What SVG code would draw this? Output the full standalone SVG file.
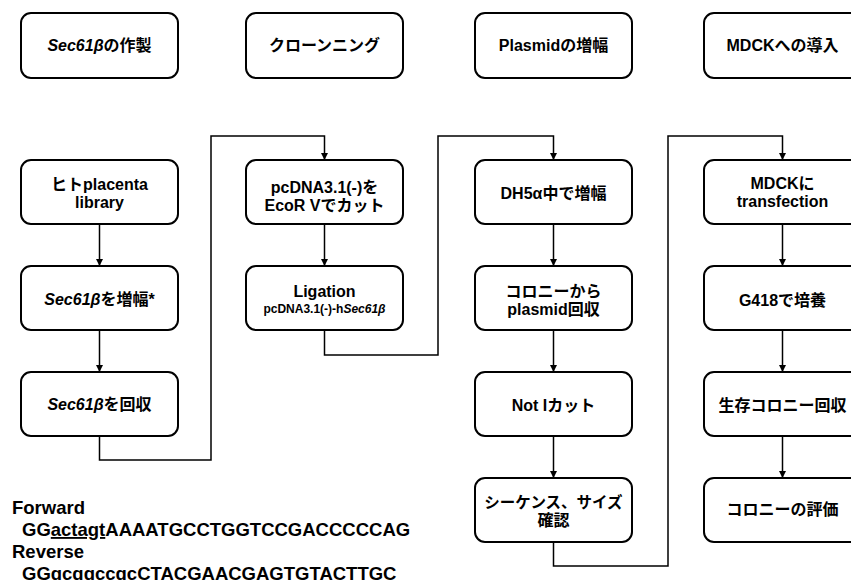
<svg xmlns="http://www.w3.org/2000/svg" width="851" height="580" viewBox="0 0 851 580">
<style>
text{font-family:"Liberation Sans","Noto Sans CJK JP",sans-serif;font-weight:bold;fill:#000;}
.n{font-size:16px;text-anchor:middle;}
.s{font-size:12px;text-anchor:middle;}
.l{font-size:16px;text-anchor:middle;}
.seq{font-size:18.5px;}
.i{font-style:italic;}
.u{text-decoration:underline;}
rect.box{fill:#fff;stroke:#000;stroke-width:2;}
#connectors path{fill:none;stroke:#000;stroke-width:1.5;}
</style>
<defs>
<marker id="ah" viewBox="0 0 10 10" refX="10" refY="5" markerWidth="7" markerHeight="7" markerUnits="userSpaceOnUse" orient="auto">
<path d="M0,0 L10,5 L0,10 z" fill="#000"/>
</marker>
</defs>
<rect width="851" height="580" fill="#fff"/>
<g id="connectors">
<path d="M99.5,224 V266" marker-end="url(#ah)"/>
<path d="M99.5,330 V372" marker-end="url(#ah)"/>
<path d="M99.5,436 V460 H211 V136 H324.5 V160" marker-end="url(#ah)"/>
<path d="M324.5,224 V266" marker-end="url(#ah)"/>
<path d="M324.5,330 V355 H438 V136 H553.5 V160" marker-end="url(#ah)"/>
<path d="M553.5,224 V266" marker-end="url(#ah)"/>
<path d="M553.5,330 V372" marker-end="url(#ah)"/>
<path d="M553.5,436 V478" marker-end="url(#ah)"/>
<path d="M553.5,542 V566 H668 V136 H782.5 V160" marker-end="url(#ah)"/>
<path d="M782.5,224 V266" marker-end="url(#ah)"/>
<path d="M782.5,330 V372" marker-end="url(#ah)"/>
<path d="M782.5,436 V478" marker-end="url(#ah)"/>
</g>
<g id="h1"><rect class="box" x="21" y="13" width="157" height="65" rx="10"/><text class="n" x="99.5" y="51"><tspan class="i">Sec61β</tspan>の作製</text></g>
<g id="h2"><rect class="box" x="246" y="13" width="157" height="65" rx="10"/><text class="n" x="324.5" y="51">クローンニング</text></g>
<g id="h3"><rect class="box" x="475" y="13" width="157" height="65" rx="10"/><text class="n" x="553.5" y="51">Plasmidの増幅</text></g>
<g id="h4"><rect class="box" x="704" y="13" width="157" height="65" rx="10"/><text class="n" x="782.5" y="51">MDCKへの導入</text></g>

<g id="a1"><rect class="box" x="21" y="160" width="157" height="64" rx="10"/><text class="n" x="99.5" y="190">ヒトplacenta</text><text class="n" x="99.5" y="208">library</text></g>
<g id="a2"><rect class="box" x="21" y="266" width="157" height="64" rx="10"/><text class="n" x="99.5" y="305"><tspan class="i">Sec61β</tspan>を増幅*</text></g>
<g id="a3"><rect class="box" x="21" y="372" width="157" height="64" rx="10"/><text class="n" x="99.5" y="410"><tspan class="i">Sec61β</tspan>を回収</text></g>

<g id="b1"><rect class="box" x="246" y="160" width="157" height="64" rx="10"/><text class="n" x="324.5" y="193">pcDNA3.1(-)を</text><text class="n" x="324.5" y="211">EcoR Vでカット</text></g>
<g id="b2"><rect class="box" x="246" y="266" width="157" height="64" rx="10"/><text class="l" x="324.5" y="297">Ligation</text><text class="s" x="324.5" y="313">pcDNA3.1(-)-h<tspan class="i">Sec61β</tspan></text></g>

<g id="c1"><rect class="box" x="475" y="160" width="157" height="64" rx="10"/><text class="n" x="553.5" y="199">DH5α中で増幅</text></g>
<g id="c2"><rect class="box" x="475" y="266" width="157" height="64" rx="10"/><text class="n" x="553.5" y="297">コロニーから</text><text class="n" x="553.5" y="315">plasmid回収</text></g>
<g id="c3"><rect class="box" x="475" y="372" width="157" height="64" rx="10"/><text class="n" x="553.5" y="411">Not Iカット</text></g>
<g id="c4"><rect class="box" x="475" y="478" width="157" height="64" rx="10"/><text class="n" x="553.5" y="508" style="font-size:15.5px">シーケンス、サイズ</text><text class="n" x="553.5" y="526">確認</text></g>

<g id="d1"><rect class="box" x="704" y="160" width="157" height="64" rx="10"/><text class="n" x="782.5" y="189">MDCKに</text><text class="n" x="782.5" y="207">transfection</text></g>
<g id="d2"><rect class="box" x="704" y="266" width="157" height="64" rx="10"/><text class="n" x="782.5" y="306">G418で培養</text></g>
<g id="d3"><rect class="box" x="704" y="372" width="157" height="64" rx="10"/><text class="n" x="782.5" y="411">生存コロニー回収</text></g>
<g id="d4"><rect class="box" x="704" y="478" width="157" height="64" rx="10"/><text class="n" x="782.5" y="515">コロニーの評価</text></g>

<g id="primers">
<text class="seq" x="12" y="514">Forward</text>
<text class="seq" x="22" y="536">GG<tspan class="u">actagt</tspan>AAAATGCCTGGTCCGACCCCCAG</text>
<text class="seq" x="12" y="558">Reverse</text>
<text class="seq" x="22" y="580">GG<tspan class="u">gcggccgc</tspan>CTACGAACGAGTGTACTTGC</text>
</g>
</svg>
